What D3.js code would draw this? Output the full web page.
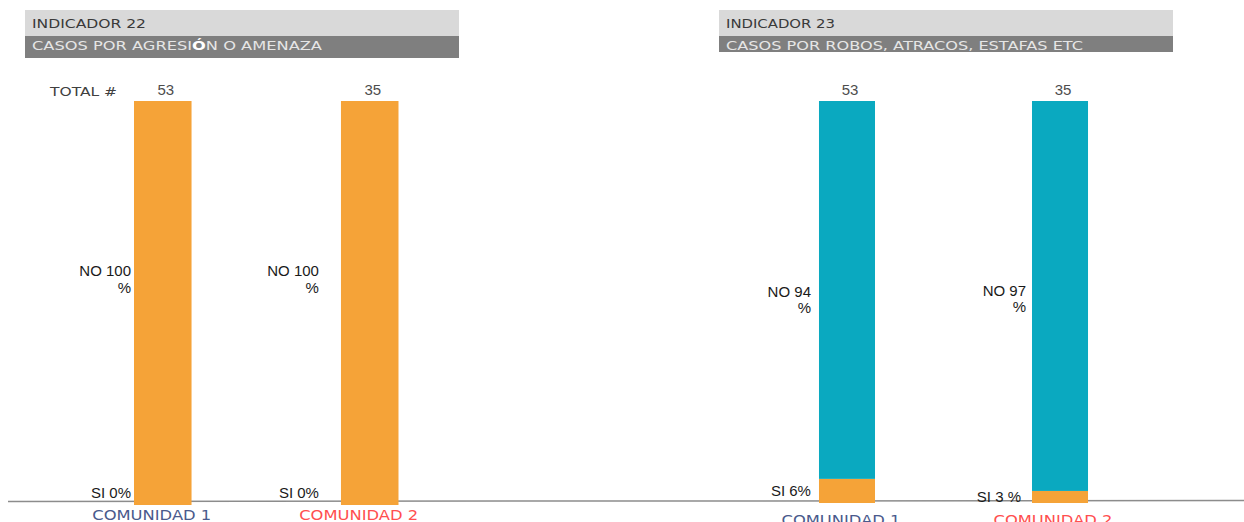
<!DOCTYPE html>
<html>
<head>
<meta charset="utf-8">
<script src="https://cdn.jsdelivr.net/npm/d3@7"></script>
<style>
  body { margin: 0; background: #fff; }
  svg { display: block; }
  text { font-family: "Liberation Sans", Arial, sans-serif; }
  .wide { font-family: "DejaVu Sans", sans-serif; }
</style>
</head>
<body>
<svg width="1244" height="522"></svg>
<script>
const WIDTH = 1244
const HEIGHT = 522

// data
const categories = ["COMUNIDAD 1", "COMUNIDAD 2"]
const totals22 = [53, 35]
const si22 = [0, 0]
const no22 = [100, 100]
const totals23 = [53, 35]
const si23 = [6, 3]
const no23 = [94, 97]
const siLabels23 = ["SI 6%", "SI 3 %"]

const ORANGE = "#f5a338"
const TEAL = "#0aa9c0"
const catColors = ["#4a5a8c", "#ff4f4f"]

const svg = d3.select("svg")

// one long baseline under both panels
svg.append("line")
    .attr("x1", 8).attr("x2", WIDTH)
    .attr("y1", 501.5).attr("y2", 500.5)
    .attr("stroke", "#8c8c8c")
    .attr("stroke-width", 1.5)

function panel(cfg) {
    let g = svg.append("g")

    // header boxes
    g.append("rect")
        .attr("x", cfg.hx).attr("y", 10)
        .attr("width", cfg.hw).attr("height", 26)
        .attr("fill", "#d9d9d9")
    g.append("rect")
        .attr("x", cfg.hx).attr("y", 36)
        .attr("width", cfg.hw).attr("height", cfg.hh2)
        .attr("fill", "#7f7f7f")

    g.append("text")
        .classed("wide", true)
        .attr("x", cfg.hx + 7).attr("y", 28)
        .attr("font-size", 13)
        .attr("fill", "#3a3a3a")
        .attr("textLength", cfg.titleLen)
        .attr("lengthAdjust", "spacingAndGlyphs")
        .text(cfg.title)

    let sub = g.append("text")
        .classed("wide", true)
        .attr("x", cfg.hx + 7).attr("y", 50)
        .attr("font-size", 13)
        .attr("fill", "#e6e6e6")
        .attr("textLength", cfg.subLen)
        .attr("lengthAdjust", "spacingAndGlyphs")
    cfg.subParts.forEach(p => {
        sub.append("tspan")
            .attr("font-weight", p.bold ? "bold" : null)
            .attr("fill", p.bold ? "#ffffff" : null)
            .text(p.t)
    })

    let x = d3.scaleBand()
        .domain(categories)
        .range(cfg.xRange)
        .paddingInner(cfg.padIn)
        .paddingOuter(cfg.padOut)

    let y = d3.scaleLinear()
        .domain([0, 100])
        .range(cfg.yRange)

    let rows = categories.map((c, i) => ({
        cat: c, i: i,
        total: cfg.totals[i], si: cfg.si[i], no: cfg.no[i],
        siLabel: cfg.siLabels[i]
    }))

    let bars = g.selectAll("g.bar")
        .data(rows)
        .join("g")
        .classed("bar", true)

    // SI segment (bottom)
    bars.append("rect")
        .attr("x", d => x(d.cat))
        .attr("width", x.bandwidth())
        .attr("y", d => y(d.si))
        .attr("height", d => y(0) - y(d.si))
        .attr("fill", ORANGE)

    // NO segment (top)
    bars.append("rect")
        .attr("x", d => x(d.cat))
        .attr("width", x.bandwidth())
        .attr("y", d => y(d.si + d.no))
        .attr("height", d => y(d.si) - y(d.si + d.no))
        .attr("fill", cfg.noColor)

    // total on top
    bars.append("text")
        .attr("x", d => x(d.cat) + x.bandwidth() / 2 + 3)
        .attr("y", d => y(d.si + d.no) - 6)
        .attr("text-anchor", "middle")
        .attr("font-size", 15)
        .attr("fill", "#4d4d4d")
        .text(d => d.total)

    // NO label, two lines
    bars.append("text")
        .attr("text-anchor", "end")
        .attr("font-size", 15)
        .attr("fill", "#1a1a1a")
        .attr("transform", d => {
            let mid = (y(d.si) + y(d.si + d.no)) / 2 + cfg.noShift[d.i]
            return "translate(" + [x(d.cat) - cfg.gap[d.i], mid] + ")"
        })
        .each(function(d) {
            let t = d3.select(this)
            t.append("tspan").attr("x", 0).attr("dy", "-0.2em").text("NO " + d.no)
            t.append("tspan").attr("x", 0).attr("dy", "1.1em").text("%")
        })

    // SI label
    bars.append("text")
        .attr("text-anchor", "end")
        .attr("font-size", 15)
        .attr("fill", "#1a1a1a")
        .attr("x", d => x(d.cat) - cfg.siGap[d.i])
        .attr("y", d => (d.si > 0 ? (y(0) + y(d.si)) / 2 : y(0) - 12) + 5)
        .text(d => d.siLabel)

    // category labels
    bars.append("text")
        .classed("wide", true)
        .attr("x", d => x(d.cat) + x.bandwidth() / 2 + cfg.catShift[d.i])
        .attr("y", cfg.catY)
        .attr("text-anchor", "middle")
        .attr("font-size", 14)
        .attr("fill", (d, i) => catColors[i])
        .attr("textLength", 119)
        .attr("lengthAdjust", "spacingAndGlyphs")
        .text(d => d.cat)

    return { g, x, y }
}

let left = panel({
    hx: 25, hw: 434, hh2: 22,
    title: "INDICADOR 22", titleLen: 114,
    subParts: [{ t: "CASOS POR AGRESI" }, { t: "Ó", bold: true }, { t: "N O AMENAZA" }],
    subLen: 290,
    xRange: [59.5, 473], padIn: 0.722, padOut: 0.36,
    yRange: [505, 101],
    totals: totals22, si: si22, no: no22,
    siLabels: si22.map(v => "SI " + v + "%"),
    noColor: ORANGE,
    noShift: [-24, -24],
    gap: [3, 22],
    siGap: [3, 22],
    catShift: [-11, -11],
    catY: 520
})

left.g.append("text")
    .classed("wide", true)
    .attr("x", 117).attr("y", 96)
    .attr("text-anchor", "end")
    .attr("font-size", 13)
    .attr("fill", "#404040")
    .attr("textLength", 67)
    .attr("lengthAdjust", "spacingAndGlyphs")
    .text("TOTAL #")

panel({
    hx: 719, hw: 454, hh2: 16,
    title: "INDICADOR 23", titleLen: 109,
    subParts: [{ t: "CASOS POR ROBOS, ATRACOS, ESTAFAS ETC" }],
    subLen: 357,
    xRange: [742.3, 1164.7], padIn: 0.737, padOut: 0.36,
    yRange: [503, 101],
    totals: totals23, si: si23, no: no23,
    siLabels: siLabels23,
    noColor: TEAL,
    noShift: [10, 3],
    gap: [8, 6],
    siGap: [8, 11],
    catShift: [-6, -7],
    catY: 525
})
</script>
</body>
</html>
